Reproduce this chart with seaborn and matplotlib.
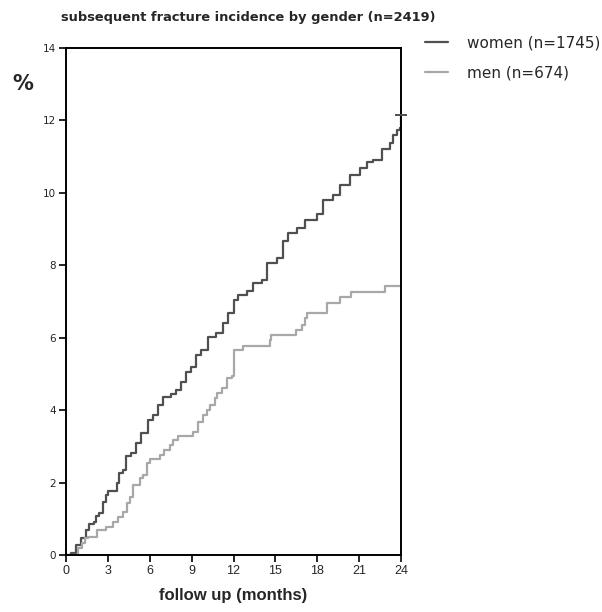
import matplotlib
matplotlib.use("Agg")
import matplotlib.pyplot as plt
import seaborn as sns
import pandas as pd

# ---- data ----
women_t = [0, 0.36, 0.72, 1.07, 1.43, 1.67, 2.03, 2.15, 2.39, 2.63, 2.87, 2.98, 3.65,
           3.82, 4.06, 4.3, 4.66, 5.01, 5.37, 5.85, 6.21, 6.57, 6.92, 7.52, 7.88, 8.24,
           8.6, 8.95, 9.31, 9.67, 10.15, 10.75, 11.22, 11.58, 12.06, 12.34, 12.94, 13.42,
           14.02, 14.37, 15.09, 15.57, 15.93, 16.52, 17.12, 17.96, 18.43, 19.15, 19.63,
           20.34, 21.06, 21.54, 22.02, 22.62, 23.21, 23.45, 23.7, 23.94, 24.0]
women_v = [0, 0.05, 0.28, 0.46, 0.69, 0.86, 0.92, 1.08, 1.17, 1.47, 1.66, 1.78, 2.0,
           2.26, 2.35, 2.72, 2.81, 3.1, 3.36, 3.73, 3.87, 4.14, 4.36, 4.45, 4.56, 4.79,
           5.04, 5.2, 5.52, 5.66, 6.03, 6.12, 6.4, 6.68, 7.04, 7.18, 7.28, 7.52,
           7.6, 8.07, 8.19, 8.66, 8.9, 9.02, 9.25, 9.42, 9.79, 9.94, 10.22,
           10.5, 10.68, 10.84, 10.91, 11.21, 11.37, 11.6, 11.74, 11.79, 12.15]

men_t = [0, 0.64, 0.88, 1.12, 1.36, 1.6, 2.2, 2.9, 3.4, 3.75, 4.1, 4.35, 4.6, 4.8, 5.3,
         5.5, 5.8, 6.0, 6.7, 7.0, 7.45, 7.7, 8.0, 9.1, 9.45, 9.8, 10.1, 10.3, 10.7, 10.8,
         11.15, 11.5, 11.9, 12.0, 12.7, 14.6, 14.7, 16.5, 16.9, 17.1, 17.25, 18.7, 19.6,
         20.4, 22.85, 24.0]
men_v = [0, 0, 0.18, 0.32, 0.46, 0.51, 0.69, 0.78, 0.92, 1.06, 1.2, 1.43, 1.61, 1.93, 2.12,
         2.21, 2.53, 2.65, 2.76, 2.9, 3.04, 3.18, 3.29, 3.4, 3.68, 3.87, 4.0, 4.14, 4.33, 4.47,
         4.6, 4.88, 4.93, 5.66, 5.77, 5.94, 6.08, 6.2, 6.35, 6.54, 6.67, 6.95, 7.12,
         7.26, 7.43, 7.43]

groups = ["women (n=1745)", "men (n=674)"]
colors = ["#505050", "#a8a8a8"]
x_ticks = [0, 3, 6, 9, 12, 15, 18, 21, 24]
y_ticks = [0, 2, 4, 6, 8, 10, 12, 14]

df = pd.concat([
    pd.DataFrame({"t": women_t, "v": women_v, "g": groups[0]}),
    pd.DataFrame({"t": men_t, "v": men_v, "g": groups[1]}),
], ignore_index=True)

sns.set_style("white")
fig = plt.figure(figsize=(6.02, 6.12), dpi=100)
ax = fig.add_axes([66 / 602, 1 - 555 / 612, 335 / 602, 507 / 612])

sns.lineplot(data=df, x="t", y="v", hue="g", palette=dict(zip(groups, colors)),
             estimator=None, sort=False, drawstyle="steps-post", linewidth=1.6,
             ax=ax, legend=False)
# censor mark at end of women curve
ax.plot([women_t[-1]], [women_v[-1]], marker="_", ms=8, mew=1.4, color=colors[0],
        clip_on=False, zorder=5)

ax.set_xlim(0, 24)
ax.set_ylim(0, 14)
ax.set_xticks(x_ticks)
ax.set_yticks(y_ticks)
ax.set_xticklabels([str(t) for t in x_ticks], fontsize=9, family="Liberation Sans")
ax.set_yticklabels([str(t) for t in y_ticks], fontsize=7.5, family="DejaVu Sans")
ax.tick_params(axis="both", direction="out", length=5, width=1.2, color="black",
               left=True, bottom=True, pad=2)
for s in ax.spines.values():
    s.set_visible(True)
    s.set_color("black")
    s.set_linewidth(1.4)
ax.set_xlabel("follow up (months)", fontsize=12, fontweight="bold",
              family="Liberation Sans", labelpad=8)
ax.set_ylabel("")

fig.text(0.413, 0.972, "subsequent fracture incidence by gender (n=2419)",
         ha="center", va="center", fontsize=9.4, fontweight="bold", family="DejaVu Sans")
fig.text(0.038, 0.862, "%", ha="center", va="center", fontsize=15, fontweight="bold",
         family="DejaVu Sans")

handles = [plt.Line2D([], [], color=c, lw=1.6) for c in colors]
leg = fig.legend(handles, groups, loc="upper left", bbox_to_anchor=(0.706, 0.942),
                 frameon=False, fontsize=11, handlelength=1.5, handletextpad=1.25,
                 labelspacing=0.95, borderaxespad=0, borderpad=0)
for t in leg.get_texts():
    t.set_family("DejaVu Sans")

fig.savefig("out.png", dpi=100)
